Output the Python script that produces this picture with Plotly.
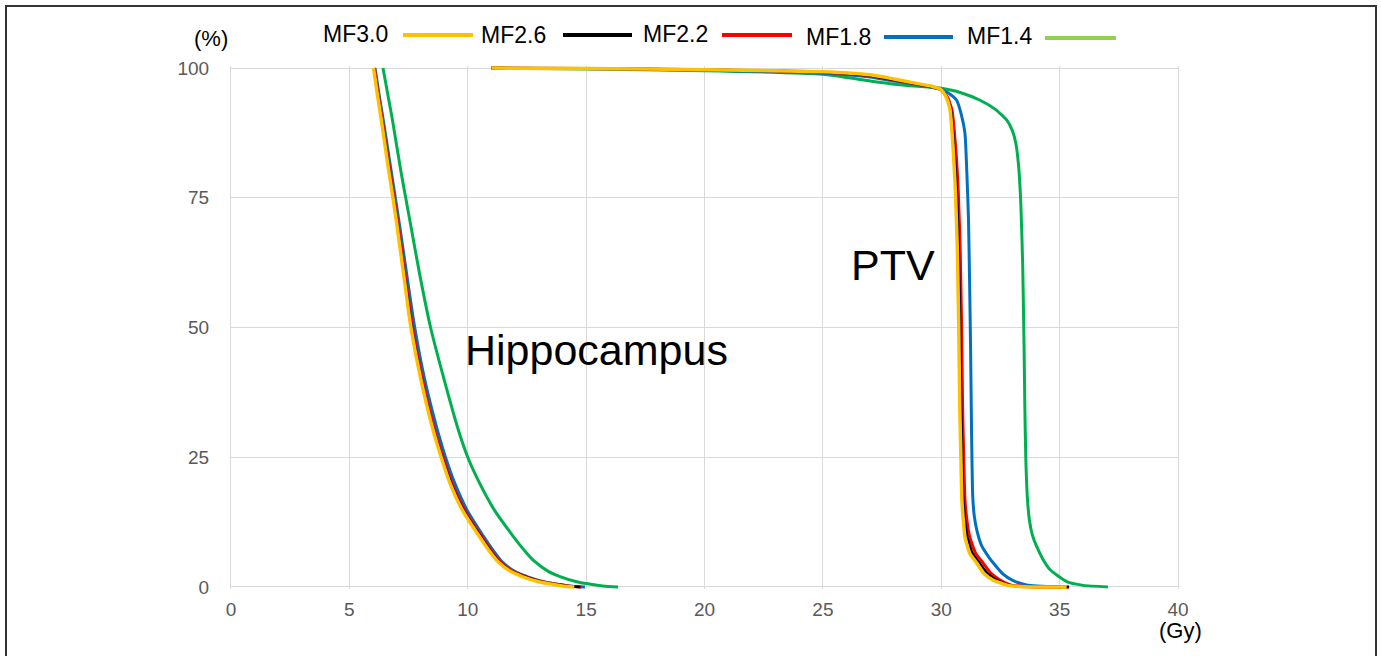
import plotly.graph_objects as go

# ---------------- data ----------------
series_names = ["MF3.0", "MF2.6", "MF2.2", "MF1.8", "MF1.4"]

# Hippocampus DVH (volume % -> dose Gy)
hippo_vol = [100, 95, 90, 80, 75, 70, 60, 50, 40, 30, 25, 20, 15, 10, 7, 5, 3, 2, 1, 0.5, 0.2, 0]
hippo_mf30 = [6.02, 6.18, 6.35, 6.67, 6.84, 7.0, 7.3, 7.6, 8.02, 8.55, 8.88, 9.25, 9.75, 10.45, 10.9, 11.25, 11.8, 12.3, 13.0, 13.6, 14.0, 14.5]
hippo_mf26 = [6.04, 6.2, 6.37, 6.7, 6.86, 7.02, 7.33, 7.64, 8.05, 8.58, 8.92, 9.3, 9.8, 10.5, 10.95, 11.3, 11.85, 12.4, 13.1, 13.7, 14.2, 14.75]
hippo_mf22 = [6.06, 6.22, 6.39, 6.72, 6.89, 7.05, 7.36, 7.67, 8.09, 8.62, 8.96, 9.34, 9.85, 10.55, 11.0, 11.35, 11.9, 12.45, 13.15, 13.75, 14.25, 14.8]
hippo_mf18 = [6.08, 6.25, 6.43, 6.77, 6.94, 7.11, 7.43, 7.76, 8.18, 8.73, 9.06, 9.45, 9.95, 10.63, 11.08, 11.42, 11.98, 12.5, 13.2, 13.8, 14.3, 14.95]
hippo_mf14 = [6.42, 6.62, 6.82, 7.18, 7.38, 7.58, 7.98, 8.43, 9.0, 9.62, 10.0, 10.5, 11.1, 11.88, 12.4, 12.8, 13.4, 13.9, 14.6, 15.2, 15.7, 16.35]

# PTV DVH (dose Gy, volume %)
ptv_mf30_dose = [11.0, 15, 20, 25, 27, 28, 29, 29.6, 30.0, 30.2, 30.37, 30.51, 30.6, 30.68, 30.74, 30.78, 30.83, 30.87, 30.93, 31.0, 31.2, 31.5, 31.8, 32.2, 32.8, 33.5, 35.3]
ptv_mf30_vol = [100, 99.9, 99.7, 99.3, 98.7, 97.9, 97.0, 96.5, 95.8, 94.5, 92, 84, 76, 65, 50, 35, 25, 17, 13, 9.7, 6.5, 4.6, 2.6, 1.3, 0.3, 0.05, 0]
ptv_mf26_dose = [11.0, 15, 20, 25, 27, 28, 29, 29.6, 30.0, 30.22, 30.41, 30.56, 30.66, 30.74, 30.8, 30.84, 30.89, 30.93, 31.0, 31.1, 31.32, 31.62, 31.95, 32.35, 32.9, 33.6, 35.4]
ptv_mf26_vol = [100, 99.9, 99.7, 99.2, 98.5, 97.7, 96.9, 96.4, 95.8, 94.5, 92, 84, 76, 65, 50, 35, 25, 17, 13, 9.7, 6.5, 4.6, 2.6, 1.3, 0.3, 0.05, 0]
ptv_mf22_dose = [11.0, 15, 20, 25, 27, 28, 29, 29.6, 30.0, 30.25, 30.45, 30.62, 30.72, 30.8, 30.86, 30.9, 30.95, 31.0, 31.08, 31.2, 31.45, 31.77, 32.1, 32.5, 33.0, 33.8, 35.4]
ptv_mf22_vol = [100, 99.9, 99.7, 99.2, 98.5, 97.7, 96.9, 96.4, 95.8, 94.5, 92, 84, 76, 65, 50, 35, 25, 17, 13, 9.7, 6.5, 4.6, 2.6, 1.3, 0.3, 0.05, 0]
ptv_mf18_dose = [11.0, 15, 20, 25, 27, 28, 29, 29.6, 30.0, 30.3, 30.65, 30.85, 31.0, 31.08, 31.15, 31.2, 31.24, 31.28, 31.33, 31.4, 31.5, 31.7, 32.0, 32.2, 32.6, 33.0, 33.6, 35.0]
ptv_mf18_vol = [100, 99.9, 99.6, 99.0, 98.3, 97.5, 96.8, 96.3, 95.9, 95.2, 93.8, 91, 87.5, 80, 71, 58, 45.7, 30, 17.4, 13.5, 11, 8, 5.8, 4.6, 2.5, 1.3, 0.4, 0]
ptv_mf14_dose = [11.0, 15, 20, 25, 27, 28, 29, 29.6, 30.0, 30.8, 31.64, 32.3, 32.76, 33.0, 33.15, 33.27, 33.36, 33.44, 33.5, 33.53, 33.57, 33.64, 33.72, 33.85, 34.03, 34.3, 34.6, 35.3, 36.0, 37.04]
ptv_mf14_vol = [100, 99.8, 99.5, 98.8, 97.5, 96.9, 96.5, 96.3, 96.1, 95.3, 93.8, 92.0, 90.0, 88.0, 85.5, 81.0, 74.0, 62.0, 45.7, 35, 25, 17.0, 13.0, 10.0, 7.8, 5.3, 3.3, 1.0, 0.3, 0]

x_ticks = [0, 5, 10, 15, 20, 25, 30, 35, 40]
y_ticks = [0, 25, 50, 75, 100]

line_colors = {"MF3.0": "#FFC000", "MF2.6": "#000000", "MF2.2": "#FF0000", "MF1.8": "#0070C0", "MF1.4": "#00B050"}
legend_colors = {"MF3.0": "#FFC000", "MF2.6": "#000000", "MF2.2": "#FF0000", "MF1.8": "#0070C0", "MF1.4": "#92D050"}
line_widths = {"MF3.0": 3.5, "MF2.6": 2.5, "MF2.2": 3, "MF1.8": 3, "MF1.4": 3}

hippo = {"MF3.0": hippo_mf30, "MF2.6": hippo_mf26, "MF2.2": hippo_mf22, "MF1.8": hippo_mf18, "MF1.4": hippo_mf14}
ptv = {"MF3.0": (ptv_mf30_dose, ptv_mf30_vol), "MF2.6": (ptv_mf26_dose, ptv_mf26_vol),
       "MF2.2": (ptv_mf22_dose, ptv_mf22_vol), "MF1.8": (ptv_mf18_dose, ptv_mf18_vol),
       "MF1.4": (ptv_mf14_dose, ptv_mf14_vol)}

# ---------------- layout geometry ----------------
W, H = 1381, 656
ML, MR, MT, MB = 231, 203, 66, 67
PW, PH = W - ML - MR, H - MT - MB


def px(x):
    return (x - ML) / PW


def py(y):
    return (H - MB - y) / PH


FONT = "Liberation Sans, Arial, sans-serif"

fig = go.Figure()
draw_order = ["MF1.4", "MF1.8", "MF2.2", "MF2.6", "MF3.0"]
for name in draw_order:
    fig.add_trace(go.Scatter(x=hippo[name], y=hippo_vol, mode="lines", name=name,
                             line=dict(color=line_colors[name], width=line_widths[name],
                                       shape="spline", smoothing=0.8),
                             showlegend=False))
for name in draw_order:
    d, v = ptv[name]
    fig.add_trace(go.Scatter(x=d, y=v, mode="lines", name=name,
                             line=dict(color=line_colors[name], width=line_widths[name],
                                       shape="spline", smoothing=0.5),
                             showlegend=False))

grid = "#D9D9D9"
fig.update_xaxes(range=[0, 40], tickvals=x_ticks, ticktext=[str(t) for t in x_ticks],
                 showgrid=True, gridcolor=grid, gridwidth=1, zeroline=False, showline=False,
                 tickfont=dict(family=FONT, size=19, color="#595959"), ticks="",
                 ticklabelstandoff=7)
fig.update_yaxes(range=[-0.4, 100.4], tickvals=y_ticks, ticktext=[str(t) for t in y_ticks],
                 showgrid=True, gridcolor=grid, gridwidth=1, zeroline=False,
                 showline=True, linecolor=grid, linewidth=1, mirror=True,
                 tickfont=dict(family=FONT, size=19, color="#595959"), ticks="",
                 ticklabelstandoff=17)

annotations = [
    dict(x=9.82, y=45.7, xref="x", yref="y", text="Hippocampus", showarrow=False,
         xanchor="left", yanchor="middle", font=dict(family=FONT, size=43, color="#000000")),
    dict(x=26.1, y=62.0, xref="x", yref="y", text="PTV", showarrow=False,
         xanchor="left", yanchor="middle", font=dict(family=FONT, size=43, color="#000000")),
    dict(x=px(211), y=py(38), xref="paper", yref="paper", text="(%)", showarrow=False,
         xanchor="center", yanchor="middle", font=dict(family=FONT, size=22, color="#000000")),
    dict(x=px(1180), y=py(630), xref="paper", yref="paper", text="(Gy)", showarrow=False,
         xanchor="center", yanchor="middle", font=dict(family=FONT, size=22, color="#000000")),
]
shapes = []

# manual legend: label followed by line sample
legend_text_x = [321, 479, 641, 804, 965]
legend_text_y = [34, 35, 34, 37, 36]
legend_line_x = [(403, 473), (563, 632), (722, 792), (884, 953), (1045, 1116)]
legend_line_y = [35, 35, 35, 37, 38]
for i, name in enumerate(series_names):
    annotations.append(dict(x=px(legend_text_x[i]), y=py(legend_text_y[i]), xref="paper", yref="paper",
                            text=name, showarrow=False, xanchor="left", yanchor="middle",
                            font=dict(family=FONT, size=23, color="#000000")))
    x0, x1 = legend_line_x[i]
    shapes.append(dict(type="line", xref="paper", yref="paper", x0=px(x0), x1=px(x1),
                       y0=py(legend_line_y[i]), y1=py(legend_line_y[i]),
                       line=dict(color=legend_colors[name], width=4)))

# outer frame
shapes.append(dict(type="rect", xref="paper", yref="paper", x0=px(6), x1=px(1376),
                   y0=py(680), y1=py(6), line=dict(color="#333333", width=2),
                   fillcolor="rgba(0,0,0,0)", layer="above"))

fig.update_layout(width=W, height=H, margin=dict(l=ML, r=MR, t=MT, b=MB),
                  paper_bgcolor="white", plot_bgcolor="white",
                  annotations=annotations, shapes=shapes, showlegend=False,
                  font=dict(family=FONT))

fig.write_html("out.html", config={"displayModeBar": False},
               post_script="document.body.style.margin='0';document.body.style.overflow='hidden';")
